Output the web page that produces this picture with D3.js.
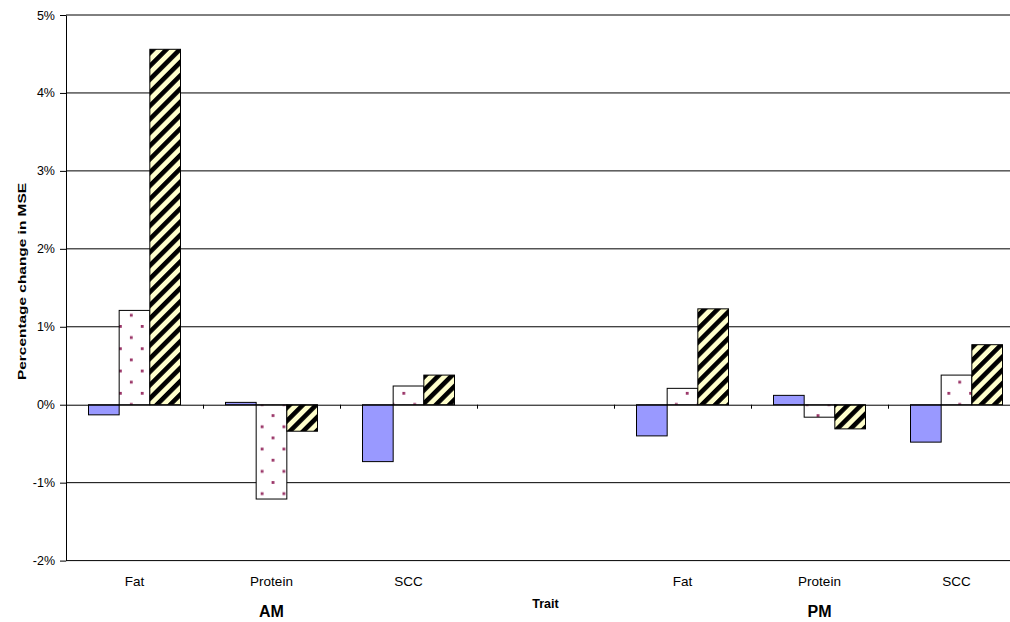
<!DOCTYPE html>
<html>
<head>
<meta charset="utf-8">
<script src="https://cdn.jsdelivr.net/npm/d3@7"></script>
<style>
  html, body { margin: 0; padding: 0; background: #fff; }
  svg { display: block; font-family: "Liberation Sans", Arial, sans-serif; }
</style>
</head>
<body>
<div id="chart"></div>
<script>
// Category slots along the x axis (one empty spacer between sessions)
const traits = ["Fat", "Protein", "SCC", "", "Fat", "Protein", "SCC"];
const sessions = ["AM", "PM"];
const sessionSlots = [[0, 2], [4, 6]];

// Percentage change in MSE for each of the three series, per slot
const seriesBlue   = [-0.13,  0.03, -0.73, null, -0.40,  0.12, -0.48];
const seriesDotted = [ 1.21, -1.21,  0.24, null,  0.21, -0.16,  0.38];
const seriesHatch  = [ 4.56, -0.34,  0.38, null,  1.23, -0.31,  0.77];

const yTicks = [-2, -1, 0, 1, 2, 3, 4, 5];
const yTitle = "Percentage change in MSE";
const xTitle = "Trait";

const W = 1010, H = 622;
const svg = d3.select("#chart").append("svg")
  .attr("width", W).attr("height", H)
  .style("overflow", "hidden");

const defs = svg.append("defs");

// dotted fill: white with staggered maroon squares
const dots = defs.append("pattern")
  .attr("id", "dots").attr("patternUnits", "userSpaceOnUse")
  .attr("x", 119).attr("y", 325)
  .attr("width", 21.8).attr("height", 22.3);
dots.append("rect").attr("width", 21.8).attr("height", 22.3).attr("fill", "#fff");
dots.append("rect").attr("x", 0).attr("y", 0).attr("width", 2.8).attr("height", 2.8).attr("fill", "#993366");
dots.append("rect").attr("x", 10.9).attr("y", 11.15).attr("width", 2.8).attr("height", 2.8).attr("fill", "#993366");

// wide upward diagonal: pale yellow with black stripes
const hatch = defs.append("pattern")
  .attr("id", "hatch").attr("patternUnits", "userSpaceOnUse")
  .attr("width", 9.4).attr("height", 9.4)
  .attr("patternTransform", "rotate(45)");
hatch.append("rect").attr("width", 9.4).attr("height", 9.4).attr("fill", "#FFFFCC");
hatch.append("rect").attr("width", 4.6).attr("height", 9.4).attr("fill", "#000");

const x0 = 66, slotW = 137;
const x1 = x0 + slotW * traits.length;

const xSlot = d3.scaleLinear().domain([0, traits.length]).range([x0, x1]);
const xBand = d3.scaleBand().domain(d3.range(traits.length)).range([x0, x1]).padding(0);
const groupPad = 22.5;
const seriesList = [
  { values: seriesBlue,   fill: "#9999FF" },
  { values: seriesDotted, fill: "url(#dots)" },
  { values: seriesHatch,  fill: "url(#hatch)" }
];
const xInner = d3.scaleBand().domain(d3.range(seriesList.length))
  .range([groupPad, slotW - groupPad]).padding(0);

const y = d3.scaleLinear().domain([-2, 5]).range([560.6, 15]);

// horizontal gridlines
svg.append("g").selectAll("line").data(yTicks.filter(d => d !== -2 && d !== 0))
  .join("line")
  .attr("x1", x0).attr("x2", x1)
  .attr("y1", d => y(d)).attr("y2", d => y(d))
  .attr("stroke", "#000").attr("stroke-width", 1);

// bars
const barsG = svg.append("g");
seriesList.forEach((s, si) => {
  barsG.append("g").selectAll("rect")
    .data(s.values.map((v, i) => ({ v, i })).filter(d => d.v !== null))
    .join("rect")
    .attr("x", d => xBand(d.i) + xInner(si))
    .attr("width", xInner.bandwidth())
    .attr("y", d => y(Math.max(0, d.v)))
    .attr("height", d => Math.abs(y(d.v) - y(0)))
    .attr("fill", s.fill)
    .attr("stroke", "#000").attr("stroke-width", 1);
});

// category axis along zero with tick marks between slots
const xAxis = d3.axisBottom(xSlot)
  .tickValues(d3.range(traits.length + 1))
  .tickFormat("")
  .tickSize(4).tickSizeOuter(0);
const xAxisG = svg.append("g").attr("transform", `translate(0,${y(0)})`).call(xAxis);
xAxisG.selectAll("line, path").attr("stroke", "#000");

// value axis
const yAxis = d3.axisLeft(y)
  .tickValues(yTicks)
  .tickFormat(d => d + "%")
  .tickSize(6).tickSizeOuter(0).tickPadding(5);
const yAxisG = svg.append("g").attr("transform", `translate(${x0},0)`).call(yAxis);
yAxisG.selectAll("line, path").attr("stroke", "#000");
yAxisG.selectAll("text")
  .attr("font-family", "Liberation Sans, Arial, sans-serif")
  .attr("font-size", 12.5).attr("fill", "#000");

// bottom line of the plot at -2%
svg.append("line")
  .attr("x1", x0).attr("x2", x1)
  .attr("y1", y(-2)).attr("y2", y(-2))
  .attr("stroke", "#000");

// trait labels
svg.append("g").selectAll("text")
  .data(traits.map((t, i) => ({ t, i })).filter(d => d.t))
  .join("text")
  .attr("x", d => xBand(d.i) + xBand.bandwidth() / 2)
  .attr("y", 586)
  .attr("text-anchor", "middle")
  .attr("font-size", 13.5)
  .text(d => d.t);

// session labels
svg.append("g").selectAll("text")
  .data(sessions.map((s, k) => ({ s, k })))
  .join("text")
  .attr("x", d => (xSlot(sessionSlots[d.k][0]) + xSlot(sessionSlots[d.k][1] + 1)) / 2)
  .attr("y", 617)
  .attr("text-anchor", "middle")
  .attr("font-size", 16).attr("font-weight", "bold")
  .text(d => d.s);

// axis titles
svg.append("text")
  .attr("x", (xSlot(3) + xSlot(4)) / 2)
  .attr("y", 607.5)
  .attr("text-anchor", "middle")
  .attr("font-size", 12.5).attr("font-weight", "bold")
  .text(xTitle);

svg.append("text")
  .attr("transform", "translate(26,281.5) rotate(-90)")
  .attr("text-anchor", "middle")
  .attr("font-size", 10.5).attr("font-weight", "bold")
  .attr("textLength", 197).attr("lengthAdjust", "spacingAndGlyphs")
  .text(yTitle);
</script>
</body>
</html>
